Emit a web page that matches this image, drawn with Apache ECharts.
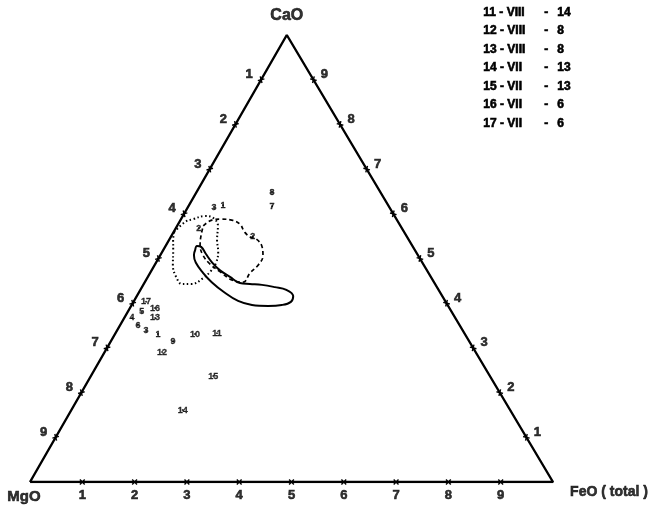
<!DOCTYPE html>
<html><head><meta charset="utf-8">
<script src="https://cdn.jsdelivr.net/npm/echarts@6/dist/echarts.min.js"></script>
<style>html,body{margin:0;padding:0;background:#fff}#c{width:650px;height:512px}</style>
</head><body><div id="c"></div>
<script>
// Ternary compositions, percent: [CaO, MgO, FeO(total)]
const sampleLabels = ['1','3','4','5','6','7','8','9','10','11','12','13','14','15','16','17','3','1','2','2'];
const sampleComp = [
  [33.1,58.7,8.2],[33.8,60.6,5.6],[36.7,61.8,1.5],[38.0,59.2,2.7],[35.1,61.5,3.4],
  [61.7,22.3,16.0],[64.7,20.8,14.5],[31.5,56.6,11.9],[33.1,51.6,15.3],[33.3,47.3,19.4],
  [29.1,60.0,11.0],[36.7,57.4,5.9],[16.1,62.6,21.3],[23.7,52.9,23.4],[38.9,56.3,4.8],
  [40.3,57.3,2.4],[61.3,33.6,5.1],[62.0,31.6,6.5],[56.8,38.8,4.4],[55.0,29.4,15.6]
];
const dottedField = [
  [55.9,44.0,0.1],[58.2,40.7,1.1],[58.8,38.9,2.3],[59.5,36.3,4.2],[59.1,34.9,6.0],
  [57.3,34.9,7.8],[54.1,36.7,9.2],[51.5,37.8,10.7],[49.0,39.5,11.5],[47.2,41.4,11.4],
  [45.6,43.7,10.7],[44.3,46.5,9.2],[44.3,48.4,7.3],[45.9,48.7,5.4],[48.5,48.0,3.5],
  [51.9,46.2,1.9],[54.1,45.1,0.8],[55.9,44.0,0.1]
];
const dashedField = [
  [57.3,37.7,5.0],[58.6,35.4,6.0],[58.8,33.4,7.8],[58.6,31.6,9.8],[57.7,30.5,11.8],
  [55.9,30.5,13.6],[54.8,30.0,15.2],[54.4,29.1,16.5],[52.8,28.8,18.4],[50.6,29.7,19.7],
  [48.5,31.7,19.8],[46.8,34.1,19.1],[44.7,36.5,18.8],[45.2,38.4,16.4],[47.0,39.7,13.3],
  [48.8,40.8,10.5],[50.8,41.1,8.1],[53.0,40.5,6.5],[55.3,39.2,5.6],[57.3,37.7,5.0]
];
const solidField = [
  [51.9,42.0,6.1],[52.8,41.2,6.0],[52.6,40.5,6.9],[51.0,40.4,8.6],[49.2,40.2,10.6],
  [47.4,39.6,13.0],[45.9,38.4,15.7],[44.5,37.2,18.3],[44.3,35.4,20.3],[44.1,33.2,22.7],
  [43.6,31.0,25.4],[43.0,29.1,27.9],[41.6,28.5,29.9],[40.3,29.6,30.1],[39.6,31.7,28.7],
  [39.4,34.4,26.2],[39.6,37.4,23.0],[40.5,39.6,19.9],[42.5,41.3,16.2],[44.7,42.5,12.8],
  [46.8,43.1,10.1],[49.2,43.4,7.6],[50.8,42.8,6.4],[51.9,42.0,6.1]
];
const tickValues = [10,20,30,40,50,60,70,80,90];
const tickLabels = ['1','2','3','4','5','6','7','8','9'];
const vertexNames = ['CaO','MgO','FeO ( total )'];
const legendSamples = ['11','12','13','14','15','16','17'];
const legendMonths = ['VIII','VIII','VIII','VII','VII','VII','VII'];
const legendCounts = ['14','8','8','13','13','6','6'];

const APEX = 0.491;
function toXY(c, m, f) { const s = c + m + f; return [(f + APEX * c) / s, c / s]; }

const FONT = '"Liberation Sans", Arial, sans-serif';
const BOLD = { color: '#000', fontWeight: 'bold', fontFamily: FONT, textBorderColor: '#000', textBorderWidth: 0.6 };
const tickData = [];
tickValues.forEach((v, i) => {
  tickData.push({ value: toXY(100 - v, v, 0).concat([0]), name: tickLabels[i], edge: 0 });
  tickData.push({ value: toXY(v, 0, 100 - v).concat([1]), name: tickLabels[i], edge: 1 });
  tickData.push({ value: toXY(0, 100 - v, v).concat([2]), name: tickLabels[i], edge: 2 });
});
const labelOffsets = [[-12, -5], [11, -5], [0, 13]];

const chart = echarts.init(document.getElementById('c'));
const legendGraphics = [];
legendSamples.forEach((s, i) => {
  const y = 13 + 18.5 * i;
  const st = { fill: '#000', stroke: '#000', lineWidth: 0.6, font: 'bold 12px ' + FONT };
  legendGraphics.push({ type: 'text', left: 483, top: y - 7, style: Object.assign({ text: s + ' - ' + legendMonths[i] }, st) });
  legendGraphics.push({ type: 'text', left: 544, top: y - 7, style: Object.assign({ text: '-' }, st) });
  legendGraphics.push({ type: 'text', left: 557, top: y - 7, style: Object.assign({ text: legendCounts[i] }, st) });
});

chart.setOption({
  animation: false,
  backgroundColor: '#fff',
  grid: { left: 30, right: 97, top: 35, bottom: 30 },
  xAxis: { type: 'value', min: 0, max: 1, show: false },
  yAxis: { type: 'value', min: 0, max: 1, show: false },
  graphic: legendGraphics,
  series: [
    { type: 'line', data: [toXY(0,100,0), toXY(0,0,100), toXY(100,0,0), toXY(0,100,0)],
      symbol: 'none', lineStyle: { color: '#000', width: 2.4 }, silent: true, z: 2 },
    { type: 'custom', data: tickData.map(d => d.value), silent: true, z: 3,
      renderItem: function (params, api) {
        const p = api.coord([api.value(0), api.value(1)]);
        const e = api.value(2);
        const V = { M: api.coord(toXY(0,100,0)), F: api.coord(toXY(0,0,100)), C: api.coord(toXY(100,0,0)) };
        const ends = [[V.M, V.C], [V.F, V.C], [V.M, V.F]][e];
        let dx = ends[1][0] - ends[0][0], dy = ends[1][1] - ends[0][1];
        const L = Math.hypot(dx, dy); dx /= L; dy /= L;
        const nx = -dy, ny = dx, r = 3;
        const a = [(dx + nx) * r * 0.8, (dy + ny) * r * 0.8], b = [(dx - nx) * r * 0.8, (dy - ny) * r * 0.8];
        const st = { stroke: '#000', lineWidth: 1.4 };
        return { type: 'group', children: [
          { type: 'line', shape: { x1: p[0] - a[0], y1: p[1] - a[1], x2: p[0] + a[0], y2: p[1] + a[1] }, style: st },
          { type: 'line', shape: { x1: p[0] - b[0], y1: p[1] - b[1], x2: p[0] + b[0], y2: p[1] + b[1] }, style: st }
        ]};
      } },
    { type: 'scatter', symbolSize: 0, silent: true, z: 4,
      data: tickData.map(d => ({ value: d.value, name: d.name,
        label: Object.assign({ show: true, formatter: d.name, position: 'inside', offset: labelOffsets[d.edge],
          fontSize: 13 }, BOLD) })) },
    { type: 'scatter', symbolSize: 0, silent: true, z: 4,
      data: [
        { value: toXY(100,0,0), label: Object.assign({ formatter: vertexNames[0], offset: [0, -19], fontSize: 16 }, BOLD) },
        { value: toXY(0,100,0), label: Object.assign({ formatter: vertexNames[1], offset: [-6, 15], fontSize: 15 }, BOLD) },
        { value: toXY(0,0,100), label: Object.assign({ formatter: vertexNames[2], offset: [56, 10], fontSize: 14 }, BOLD) }
      ],
      label: { show: true, position: 'inside' } },
    { type: 'line', data: dottedField.map(d => toXY(d[0], d[1], d[2])), symbol: 'none', smooth: 0.4,
      lineStyle: { color: '#000', width: 2, type: [1.5, 2.5] }, silent: true },
    { type: 'line', data: dashedField.map(d => toXY(d[0], d[1], d[2])), symbol: 'none', smooth: 0.4,
      lineStyle: { color: '#000', width: 1.7, type: [4, 3] }, silent: true },
    { type: 'line', data: solidField.map(d => toXY(d[0], d[1], d[2])), symbol: 'none', smooth: 0.4,
      lineStyle: { color: '#000', width: 2 }, silent: true },
    { type: 'scatter', symbolSize: 2, itemStyle: { color: '#000' }, silent: true, z: 5,
      data: sampleComp.map((d, i) => ({ value: toXY(d[0], d[1], d[2]), name: sampleLabels[i] })),
      label: Object.assign({ show: true, position: 'inside', formatter: p => p.name, fontSize: 9 }, BOLD, { textBorderWidth: 0.3 }) }
  ]
});
</script></body></html>
